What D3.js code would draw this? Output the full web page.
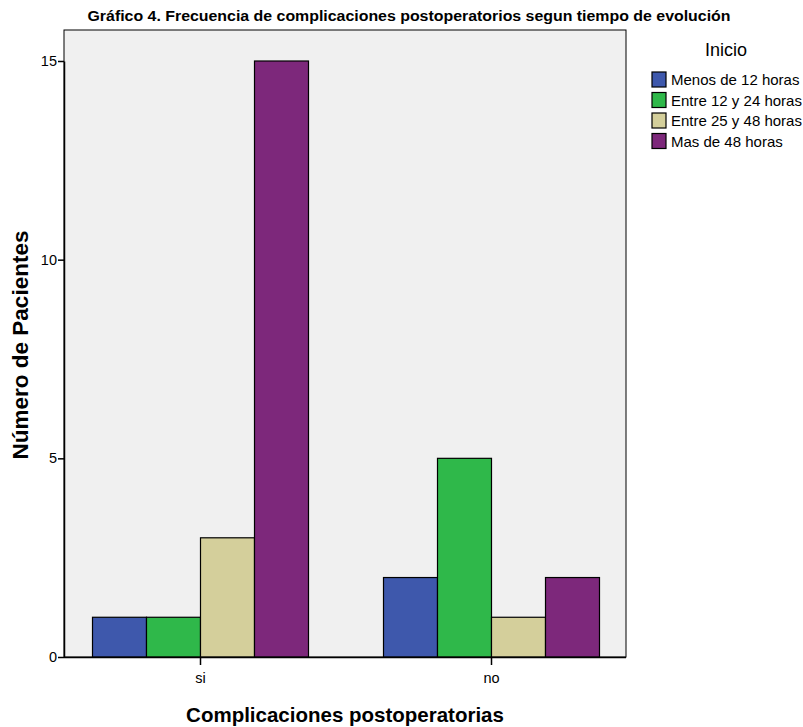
<!DOCTYPE html>
<html>
<head>
<meta charset="utf-8">
<script src="https://cdn.jsdelivr.net/npm/d3@7"></script>
<style>
  body { margin: 0; background: #fff; }
  svg text { font-family: "Liberation Sans", Arial, sans-serif; }
</style>
</head>
<body>
<svg id="chart" width="803" height="727"></svg>
<script>
// Categories on the x axis and the legend series
const categories = ["si", "no"];
const seriesNames = ["Menos de 12 horas", "Entre 12 y 24 horas", "Entre 25 y 48 horas", "Mas de 48 horas"];
const seriesColors = ["#3e58ac", "#2fb84a", "#d4cf9b", "#7d287b"];
// Patient counts: one array per series, ordered like categories
const menos12 = [1, 2];
const entre12y24 = [1, 5];
const entre25y48 = [3, 1];
const mas48 = [15, 2];
const yTicks = [0, 5, 10, 15];

const seriesValues = [menos12, entre12y24, entre25y48, mas48];

const svg = d3.select("#chart");
const frame = { left: 64, right: 626, top: 30, bottom: 657 };

// Plot background
svg.append("rect")
  .attr("x", frame.left).attr("y", frame.top)
  .attr("width", frame.right - frame.left).attr("height", frame.bottom - frame.top)
  .attr("fill", "#f0f0f0").attr("stroke", "#000").attr("stroke-width", 1);

const y = d3.scaleLinear().domain([0, 15]).range([frame.bottom, 61]);
const x = d3.scaleBand().domain(categories).range([55, 637]).padding(0);
const xInner = d3.scaleBand().domain(seriesNames).range([-108, 108]).padding(0);

// Bars
categories.forEach((cat, ci) => {
  const cx = x(cat) + x.bandwidth() / 2;
  seriesNames.forEach((s, si) => {
    const v = seriesValues[si][ci];
    svg.append("rect")
      .attr("x", cx + xInner(s))
      .attr("y", y(v))
      .attr("width", xInner.bandwidth())
      .attr("height", y(0) - y(v))
      .attr("fill", seriesColors[si])
      .attr("stroke", "#000")
      .attr("stroke-width", 1.2);
  });
});

// Y axis
const yAxis = svg.append("g")
  .attr("transform", `translate(${frame.left},0)`)
  .call(d3.axisLeft(y).tickValues(yTicks).tickSize(6).tickSizeOuter(0).tickFormat(d3.format("d")));
yAxis.select(".domain").attr("stroke", "#000").attr("stroke-width", 1.5);
yAxis.selectAll(".tick line").attr("stroke", "#000").attr("stroke-width", 1.5);
yAxis.selectAll(".tick text").attr("font-size", 14.5).attr("fill", "#000")
  .attr("font-family", "Liberation Sans, Arial, sans-serif").attr("x", -7);

// X axis
const xAxis = svg.append("g")
  .attr("transform", `translate(0,${frame.bottom})`)
  .call(d3.axisBottom(x).tickSize(8).tickSizeOuter(0));
xAxis.select(".domain").attr("d", `M${frame.left},0.5H${frame.right}`).attr("stroke", "#000").attr("stroke-width", 1.5);
xAxis.selectAll(".tick line").attr("stroke", "#000").attr("stroke-width", 1.5);
xAxis.selectAll(".tick text").attr("font-size", 14.5).attr("fill", "#000")
  .attr("font-family", "Liberation Sans, Arial, sans-serif").attr("y", 16);

// Title
svg.append("text")
  .attr("x", 409).attr("y", 21)
  .attr("text-anchor", "middle")
  .attr("font-size", 14).attr("font-weight", "bold")
  .attr("textLength", 643).attr("lengthAdjust", "spacingAndGlyphs")
  .text("Gráfico 4. Frecuencia de complicaciones postoperatorios segun tiempo de evolución");

// Axis titles
svg.append("text")
  .attr("transform", "translate(28,345) rotate(-90)")
  .attr("text-anchor", "middle")
  .attr("font-size", 22.5).attr("font-weight", "bold")
  .text("Número de Pacientes");

svg.append("text")
  .attr("x", 345).attr("y", 722)
  .attr("text-anchor", "middle")
  .attr("font-size", 20.5).attr("font-weight", "bold")
  .text("Complicaciones postoperatorias");

// Legend
const legend = svg.append("g");
legend.append("text")
  .attr("x", 726).attr("y", 56)
  .attr("text-anchor", "middle")
  .attr("font-size", 18)
  .text("Inicio");
seriesNames.forEach((s, i) => {
  const ly = 72 + i * 20.5;
  legend.append("rect")
    .attr("x", 652).attr("y", ly)
    .attr("width", 14).attr("height", 15)
    .attr("fill", seriesColors[i]).attr("stroke", "#000").attr("stroke-width", 1.2);
  legend.append("text")
    .attr("x", 671).attr("y", ly + 13)
    .attr("font-size", 15)
    .text(s);
});
</script>
</body>
</html>
